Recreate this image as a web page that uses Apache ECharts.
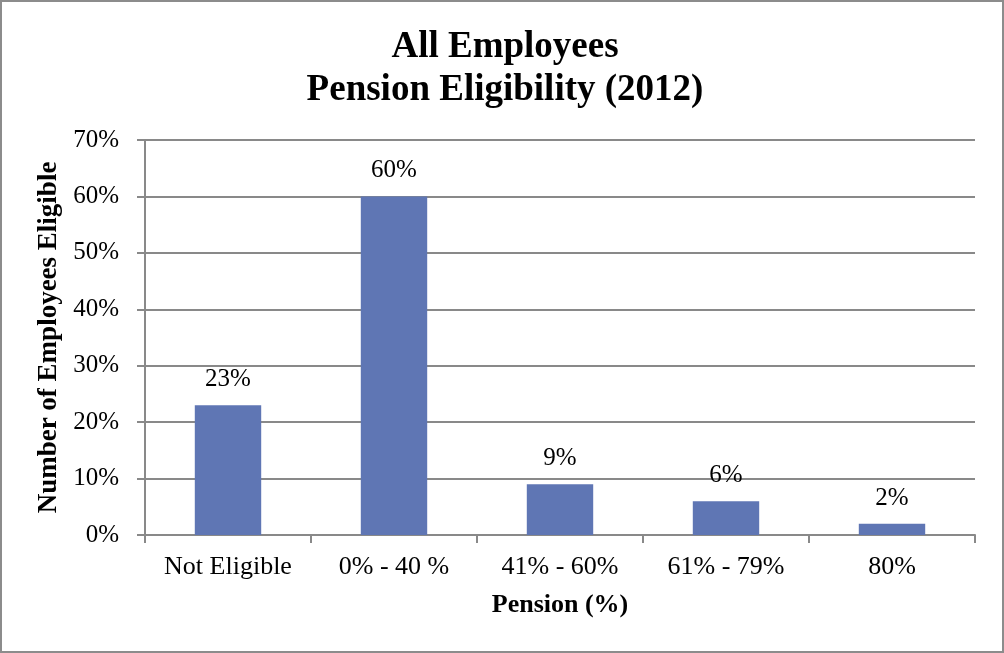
<!DOCTYPE html>
<html><head><meta charset="utf-8">
<script src="https://cdn.jsdelivr.net/npm/echarts@6/dist/echarts.min.js"></script>
<style>
html,body{margin:0;padding:0;background:#fff;}
#wrap{position:absolute;left:0;top:0;width:1000px;height:649px;border:2px solid #8c8c8c;}
#c{width:1000px;height:649px;}
</style></head>
<body><div id="wrap"><div id="c"></div></div>
<script>
const categories = ['Not Eligible', '0% - 40 %', '41% - 60%', '61% - 79%', '80%'];
const values = [23, 60, 9, 6, 2];
const titleLines = ['All Employees', 'Pension Eligibility (2012)'];
const yAxisName = 'Number of Employees Eligible';
const xAxisName = 'Pension (%)';

const font = '"Liberation Serif", "Times New Roman", serif';
const chart = echarts.init(document.getElementById('c'));
chart.setOption({
  animation: false,
  title: {
    text: titleLines.join('\n'),
    left: 498, top: 19, textAlign: 'center',
    textStyle: {fontFamily: font, fontSize: 37, fontWeight: 'bold', color: '#000', lineHeight: 43}
  },
  grid: {left: 143, right: 27, top: 138, bottom: 116},
  xAxis: {
    type: 'category', data: categories,
    name: xAxisName, nameLocation: 'middle', nameGap: 57,
    nameTextStyle: {fontFamily: font, fontSize: 26, fontWeight: 'bold', color: '#000'},
    axisLine: {lineStyle: {color: '#898989', width: 2}},
    axisTick: {show: true, interval: 0, length: 8, lineStyle: {color: '#898989', width: 2}, alignWithLabel: false},
    axisLabel: {interval: 0, hideOverlap: false, fontFamily: font, fontSize: 26, color: '#000', margin: 19}
  },
  yAxis: {
    type: 'value', min: 0, max: 70, interval: 10,
    name: yAxisName, nameLocation: 'middle', nameGap: 79, nameRotate: 90,
    nameTextStyle: {fontFamily: font, fontSize: 27, fontWeight: 'bold', color: '#000'},
    axisLine: {show: true, lineStyle: {color: '#898989', width: 2}},
    axisTick: {show: true, length: 8, lineStyle: {color: '#898989', width: 2}},
    axisLabel: {fontFamily: font, fontSize: 25, color: '#000', margin: 26, formatter: v => v + '%'},
    splitLine: {lineStyle: {color: '#898989', width: 2}}
  },
  series: [{
    type: 'bar', data: values, barWidth: '40%',
    itemStyle: {color: '#5F76B4'},
    label: {show: true, position: 'top', distance: 13, fontFamily: font, fontSize: 25, color: '#000', formatter: p => p.value + '%'}
  }]
});
</script></body></html>
